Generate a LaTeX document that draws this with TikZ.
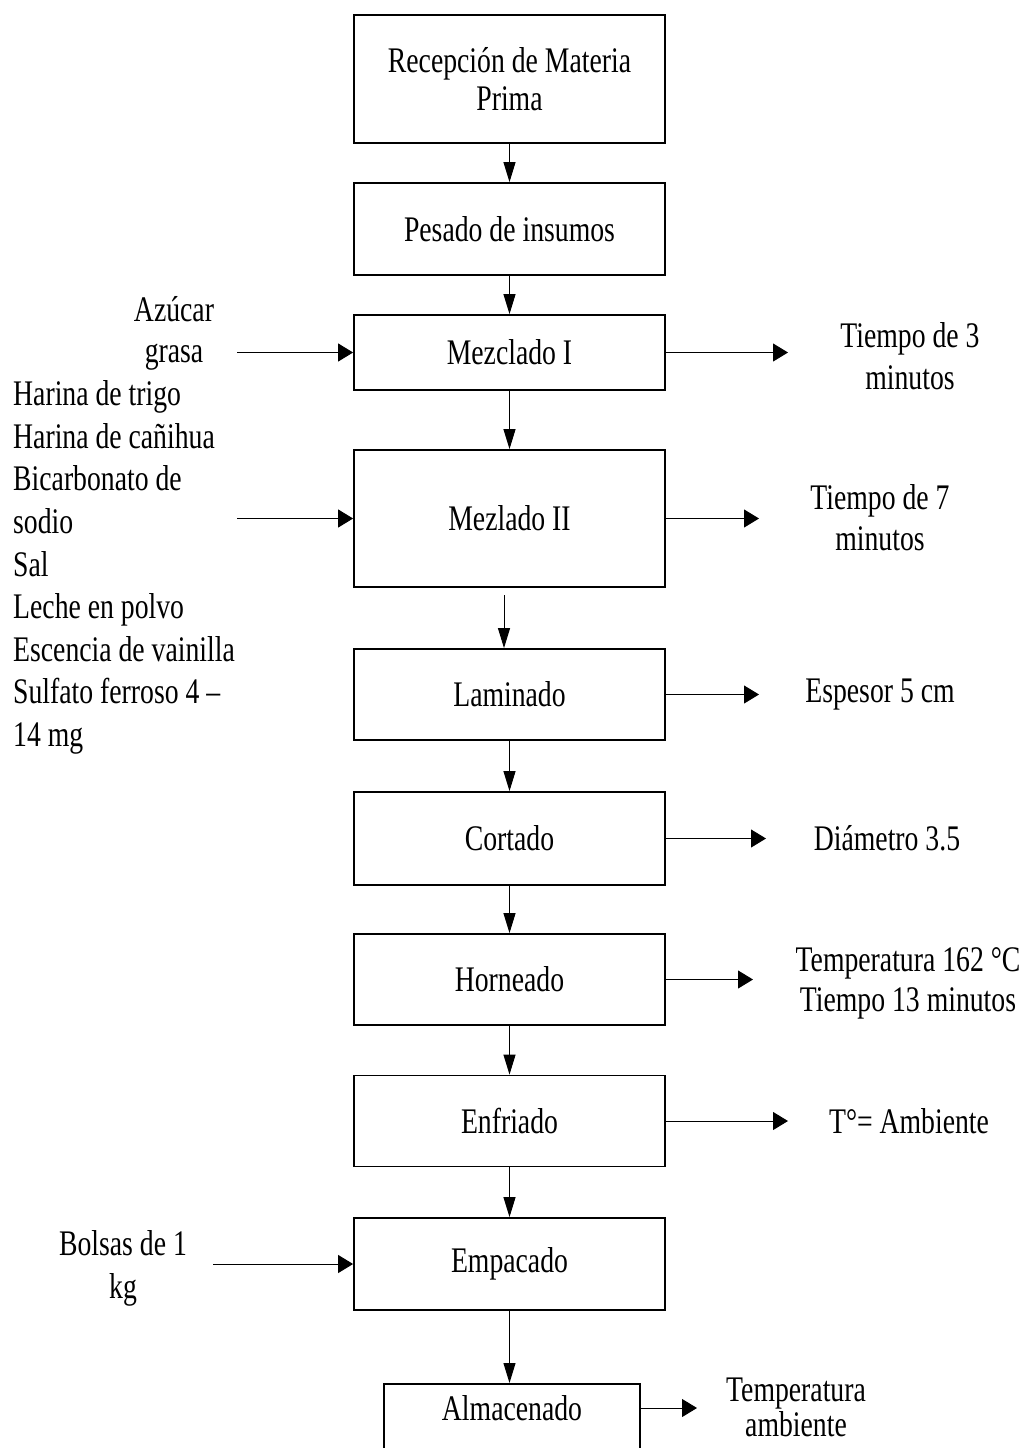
\documentclass[tikz,border=0pt]{standalone}
\usepackage{fontspec}
\setmainfont{Liberation Serif}[FakeStretch=0.77]
\usetikzlibrary{arrows.meta}
\begin{document}
\begin{tikzpicture}[x=1pt,y=-1pt,
  box/.style={draw, line width=1.8pt, minimum width=311pt, inner sep=0pt, align=center, font=\fontsize{36}{41}\selectfont},
  txt/.style={align=center, inner sep=0pt, font=\fontsize{36}{41}\selectfont},
  varr/.style={-{Triangle[length=20pt,width=12pt]}, line width=1pt},
  harr/.style={-{Triangle[length=15pt,width=18pt]}, line width=1pt},
]
\useasboundingbox (0,0) rectangle (1028,1448);

% process boxes
\node[box, minimum height=128pt, font=\fontsize{36}{38}\selectfont] (rec) at (509.5,79) {Recepción de Materia\\Prima};
\node[box, minimum height=92pt] (pes) at (509.5,229) {Pesado de insumos};
\node[box, minimum height=75pt] (mz1) at (509.5,352.5) {Mezclado I};
\node[box, minimum height=137pt] (mz2) at (509.5,518.5) {Mezlado II};
\node[box, minimum height=91pt] (lam) at (509.5,694.5) {Laminado};
\node[box, minimum height=93pt] (cor) at (509.5,838.5) {Cortado};
\node[box, minimum height=91pt] (hor) at (509.5,979.5) {Horneado};
\node[box, minimum height=91pt] (enf) at (509.5,1121) {Enfriado};
\node[box, minimum height=92pt] (emp) at (509.5,1264) {Empacado};
\node[box, minimum width=256pt, text height=37pt, text depth=45pt, anchor=north] (alm) at (512,1383) {Almacenado};

% vertical flow
\draw[varr] (rec.south) -- (pes.north);
\draw[varr] (pes.south) -- (mz1.north);
\draw[varr] (mz1.south) -- (mz2.north);
\coordinate (m2out) at (504,595);
\draw[varr] (m2out) -- (m2out |- lam.north);
\draw[varr] (lam.south) -- (cor.north);
\draw[varr] (cor.south) -- (hor.north);
\draw[varr] (hor.south) -- (enf.north);
\draw[varr] (enf.south) -- (emp.north);
\draw[varr] (emp.south) -- (emp.south |- alm.north);

% inputs
\node[txt] (azu) at (174,333.5) {Azúcar\\grasa};
\node[txt, align=left, anchor=west, font=\fontsize{36}{42.6}\selectfont] (ing) at (13,567.5)
  {Harina de trigo\\Harina de cañihua\\Bicarbonato de\\sodio\\Sal\\Leche en polvo\\Escencia de vainilla\\Sulfato ferroso 4 –\\14 mg};
\node[txt, font=\fontsize{36}{43}\selectfont] (bol) at (123,1268.5) {Bolsas de 1\\kg};
\coordinate (l1) at (237,352.5);
\coordinate (l2) at (237,518.5);
\coordinate (l3) at (213,1264);
\draw[harr] (l1) -- (mz1.west);
\draw[harr] (l2) -- (mz2.west);
\draw[harr] (l3) -- (emp.west);

% outputs
\coordinate (r1) at (788,352.5);
\coordinate (r2) at (759,518.5);
\coordinate (r3) at (759,694.5);
\coordinate (r4) at (766,838.5);
\coordinate (r5) at (753,979.5);
\coordinate (r6) at (788,1121);
\coordinate (r7) at (697,1408);
\draw[harr] (mz1.east) -- (r1);
\draw[harr] (mz2.east) -- (r2);
\draw[harr] (lam.east) -- (r3);
\draw[harr] (cor.east) -- (r4);
\draw[harr] (hor.east) -- (r5);
\draw[harr] (enf.east) -- (r6);
\draw[harr] (alm.east |- r7) -- (r7);

\node[txt, font=\fontsize{36}{42}\selectfont] (t1) at (910,356) {Tiempo de 3\\minutos};
\node[txt, font=\fontsize{36}{41}\selectfont] (t2) at (880,517.5) {Tiempo de 7\\minutos};
\node[txt] (t3) at (880,695) {Espesor 5 cm};
\node[txt] (t4) at (887,838) {Diámetro 3.5};
\node[txt, font=\fontsize{36}{40}\selectfont] (t5) at (908,983) {Temperatura 162 °C\\Tiempo 13 minutos};
\node[txt] (t6) at (909,1121) {T°= Ambiente};
\node[txt, font=\fontsize{36}{35}\selectfont] (t7) at (796,1407.5) {Temperatura\\ambiente};
\end{tikzpicture}
\end{document}
